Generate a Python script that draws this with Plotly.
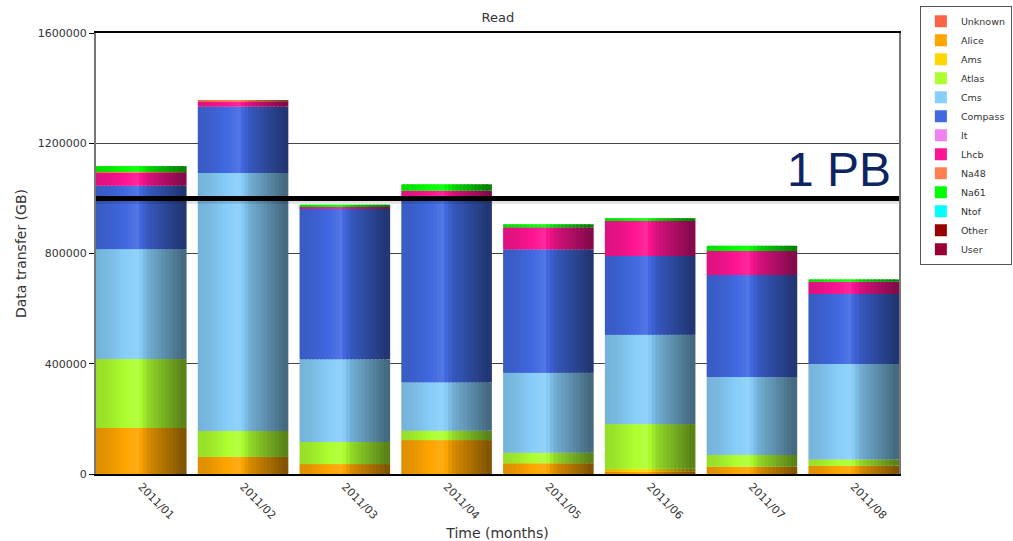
import numpy as np
import plotly.graph_objects as go

# Monthly read volume per experiment, in GB
months = ["2011/01", "2011/02", "2011/03", "2011/04", "2011/05", "2011/06", "2011/07", "2011/08"]

unknown = [0, 0, 0, 0, 0, 0, 0, 0]
alice = [167000, 62000, 36000, 123000, 39000, 8000, 27000, 30000]
ams = [0, 0, 0, 0, 0, 11000, 0, 0]
atlas = [250000, 94000, 80000, 34000, 38000, 162000, 42000, 23000]
cms = [399000, 936000, 300000, 176000, 290000, 324000, 283000, 346000]
compass = [230000, 241000, 548000, 662000, 448000, 286000, 370000, 254000]
it = [0, 0, 0, 0, 0, 0, 0, 0]
lhcb = [48000, 18000, 7000, 33000, 80000, 127000, 87000, 45000]
na48 = [3000, 3000, 0, 0, 0, 0, 0, 0]
na61 = [20000, 0, 6000, 23000, 11000, 10000, 19000, 8000]
ntof = [0, 0, 0, 0, 0, 0, 0, 0]
other = [0, 0, 0, 0, 0, 0, 0, 0]
user = [0, 0, 0, 0, 0, 0, 0, 0]

series_names = ["Unknown", "Alice", "Ams", "Atlas", "Cms", "Compass", "It",
                "Lhcb", "Na48", "Na61", "Ntof", "Other", "User"]
series_values = [unknown, alice, ams, atlas, cms, compass, it,
                 lhcb, na48, na61, ntof, other, user]
series_colors = ["#ff6347", "#ffa500", "#ffd700", "#adff2f", "#87cefa", "#4169e1",
                 "#ee82ee", "#ff1493", "#ff7f50", "#00ff00", "#00ffff", "#990000", "#990033"]

y_ticks = [0, 400000, 800000, 1200000, 1600000]
petabyte = 1000000

BAR_WIDTH = 0.89
N_STRIPS = 24
FONT = "DejaVu Sans"


def hex_to_rgb(h):
    h = h.lstrip("#")
    return [int(h[i:i + 2], 16) for i in (0, 2, 4)]


def shade(rgb, f):
    if f >= 1:
        k = min((f - 1) * 1.5, 1)
        out = [c + (255 - c) * k for c in rgb]
    else:
        out = [c * f for c in rgb]
    return "rgb({},{},{})".format(*[int(round(min(max(c, 0), 255))) for c in out])


# cylinder-like horizontal shading profile across each bar
grad_t = [0.0, 0.15, 0.48, 0.6, 1.0]
grad_f = [0.86, 0.9, 1.06, 0.84, 0.5]

fig = go.Figure()

bottoms = np.zeros(len(months))
strip_w = BAR_WIDTH / N_STRIPS
overlap = strip_w * 0.6
centers = (np.arange(N_STRIPS) + 0.5) / N_STRIPS
factors = np.interp(centers, grad_t, grad_f)
legend_strip = int(np.argmin(np.abs(factors - 1.0)))

for name, vals, col in zip(series_names, series_values, series_colors):
    vals = np.array(vals, dtype=float)
    rgb = hex_to_rgb(col)
    for k in range(N_STRIPS):
        # each strip reaches a little into its left neighbour to hide seams
        ext = overlap if k > 0 else 0.0
        fig.add_trace(go.Bar(
            x=months,
            y=vals,
            base=bottoms.copy(),
            offset=-BAR_WIDTH / 2 + k * strip_w - ext,
            width=strip_w + ext,
            marker=dict(color=shade(rgb, factors[k]) if k != legend_strip else col,
                        line=dict(width=0)),
            name=name,
            legendgroup=name,
            showlegend=(k == legend_strip),
            hovertemplate=name + ": %{y}<extra></extra>",
        ))
    bottoms = bottoms + vals

# 1 PB reference line with a soft shadow
fig.add_shape(type="line", xref="paper", yref="y", x0=0, x1=1,
              y0=petabyte - 9000, y1=petabyte - 9000,
              line=dict(color="rgba(0,0,0,0.12)", width=6), layer="above")
fig.add_shape(type="line", xref="paper", yref="y", x0=0, x1=1,
              y0=petabyte, y1=petabyte,
              line=dict(color="black", width=5), layer="above")
fig.add_annotation(text="1 PB", xref="paper", yref="y", x=0.993, y=petabyte,
                   xanchor="right", yanchor="bottom", yshift=0, showarrow=False,
                   font=dict(family="Liberation Sans", size=48, color="#0c2461"))

fig.update_layout(
    width=1013, height=541,
    margin=dict(l=96, r=114, t=33, b=67, autoexpand=False),
    paper_bgcolor="white", plot_bgcolor="white",
    barmode="overlay",
    font=dict(family=FONT, color="#333333"),
    title=dict(text="Read", x=0.4915, xanchor="center", y=0.968, yanchor="middle",
               font=dict(family=FONT, size=13, color="#333333")),
    legend=dict(x=1.026, xanchor="left", y=1.062, yanchor="top",
                bgcolor="white", bordercolor="#555555", borderwidth=1,
                font=dict(family=FONT, size=9.5, color="#333333"),
                itemwidth=30,
                tracegroupgap=1, traceorder="normal"),
    showlegend=True,
)

fig.update_xaxes(
    type="category", range=[-0.445, 7.445],
    tickangle=45, tickfont=dict(family=FONT, size=11, color="#333333"),
    showline=True, linecolor="black", linewidth=2, mirror=True,
    ticks="", showgrid=False,
    title=dict(text="Time (months)", font=dict(family=FONT, size=14, color="#333333"),
               standoff=14),
)
fig.update_yaxes(
    range=[0, 1600000], tickvals=y_ticks, tickformat="d",
    tickfont=dict(family=FONT, size=11, color="#333333"),
    showline=True, linecolor="#777777", linewidth=2, mirror=True,
    ticks="outside", ticklen=5, tickcolor="black",
    showgrid=True, gridcolor="#444444", gridwidth=1, zeroline=False,
    title=dict(text="Data transfer (GB)", font=dict(family=FONT, size=14, color="#333333"),
               standoff=8),
)

fig.write_html("out.html")
